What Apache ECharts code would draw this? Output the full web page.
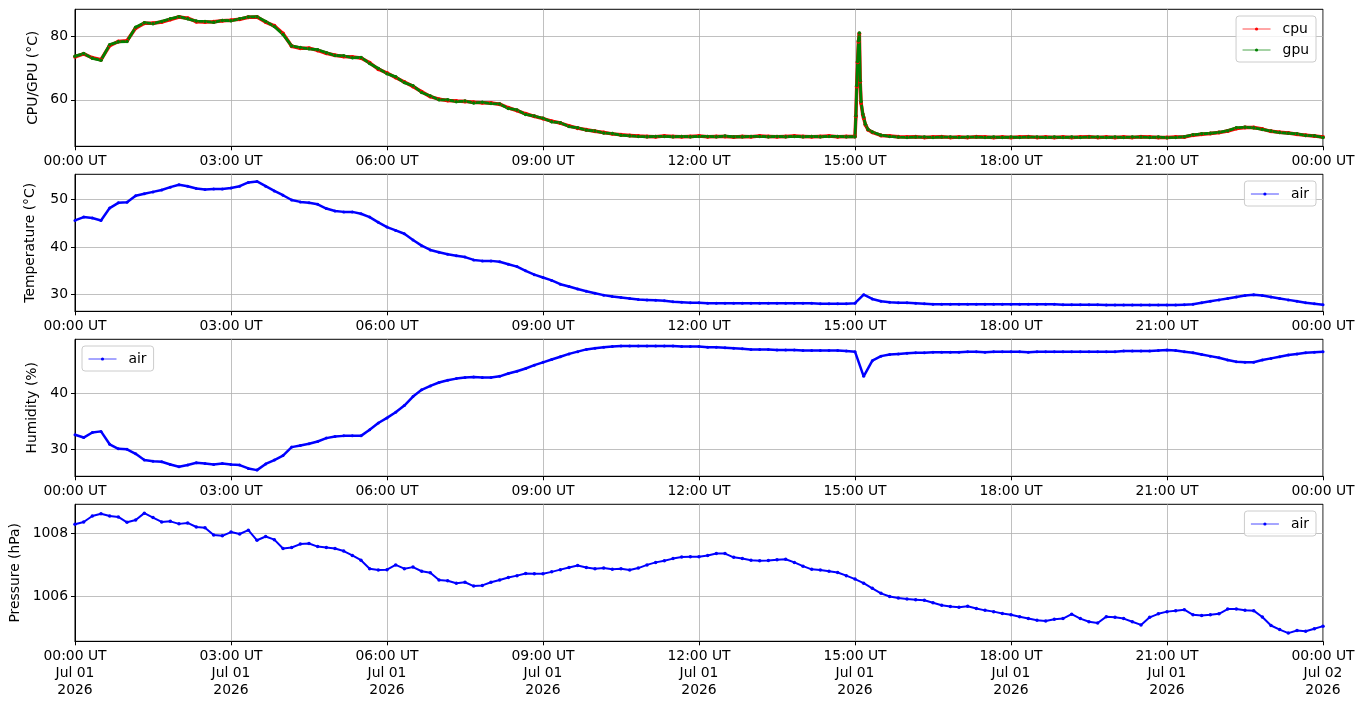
<!DOCTYPE html>
<html>
<head>
<meta charset="utf-8">
<script src="https://cdn.jsdelivr.net/npm/echarts@6/dist/echarts.min.js"></script>
<style>
  html, body { margin: 0; padding: 0; background: #fff; }
  #chart { width: 1364px; height: 707px; }
</style>
</head>
<body>
<div id="chart"></div>
<script>
// ── Data: one sample every 10 minutes, 00:00 UT Jul 01 → 00:00 UT Jul 02 ──
const startUtc = Date.UTC(2026, 6, 1)
const stepMs = 10 * 60 * 1000
const hourMs = 3600 * 1000

const cpuTemp = [
  73.5, 74.4, 73.2, 72.6, 77.0, 78.3,
  78.5, 82.5, 84.0, 84.0, 84.4, 85.2,
  86.0, 85.6, 84.5, 84.4, 84.5, 84.8,
  85.0, 85.3, 85.9, 86.0, 84.4, 83.2,
  80.8, 76.8, 76.2, 76.2, 75.5, 74.6,
  74.0, 73.6, 73.4, 73.1, 71.6, 69.6,
  68.4, 67.0, 65.6, 64.2, 62.5, 61.0,
  60.2, 59.8, 59.6, 59.5, 59.2, 59.1,
  59.0, 58.6, 57.5, 56.6, 55.6, 54.8,
  54.1, 53.3, 52.7, 51.8, 51.1, 50.6,
  50.1, 49.7, 49.3, 49.0, 48.8, 48.6,
  48.5, 48.4, 48.6, 48.5, 48.4, 48.5,
  48.6, 48.4, 48.5, 48.5, 48.3, 48.5,
  48.4, 48.6, 48.5, 48.4, 48.5, 48.6,
  48.5, 48.4, 48.5, 48.6, 48.4, 48.5,
  48.5, 54.3, 49.8, 48.8, 48.6, 48.4,
  48.3, 48.4, 48.2, 48.3, 48.4, 48.2,
  48.3, 48.2, 48.4, 48.3, 48.2, 48.3,
  48.2, 48.3, 48.4, 48.2, 48.3, 48.2,
  48.3, 48.2, 48.3, 48.4, 48.2, 48.3,
  48.2, 48.3, 48.2, 48.4, 48.3, 48.2,
  48.2, 48.3, 48.3, 48.9, 49.2, 49.4,
  49.7, 50.2, 51.0, 51.3, 51.3, 50.8,
  50.1, 49.8, 49.6, 49.2, 48.9, 48.6, 48.3,
]

const gpuTemp = [
  73.7, 74.5, 73.0, 72.4, 77.3, 78.2,
  78.3, 82.8, 84.2, 83.9, 84.6, 85.4,
  86.1, 85.4, 84.7, 84.6, 84.3, 84.9,
  84.8, 85.4, 86.0, 86.1, 84.6, 83.0,
  80.5, 76.9, 76.4, 76.0, 75.7, 74.8,
  73.9, 73.8, 73.2, 73.3, 71.4, 69.8,
  68.2, 67.2, 65.4, 64.4, 62.3, 61.2,
  60.0, 60.0, 59.4, 59.6, 59.0, 59.2,
  58.8, 58.7, 57.3, 56.8, 55.4, 54.9,
  54.2, 53.1, 52.8, 51.6, 51.2, 50.5,
  50.2, 49.6, 49.4, 48.9, 48.7, 48.5,
  48.4, 48.5, 48.5, 48.4, 48.5, 48.4,
  48.5, 48.5, 48.4, 48.6, 48.4, 48.4,
  48.5, 48.5, 48.4, 48.5, 48.4, 48.5,
  48.4, 48.5, 48.4, 48.5, 48.5, 48.4,
  48.4, 54.6, 49.9, 48.9, 48.5, 48.3,
  48.2, 48.3, 48.3, 48.2, 48.3, 48.3,
  48.2, 48.3, 48.3, 48.2, 48.3, 48.2,
  48.3, 48.2, 48.3, 48.3, 48.2, 48.3,
  48.2, 48.3, 48.2, 48.3, 48.3, 48.2,
  48.3, 48.2, 48.3, 48.3, 48.2, 48.3,
  48.1, 48.2, 48.4, 49.0, 49.3, 49.5,
  49.8, 50.3, 51.2, 51.4, 51.2, 50.7,
  50.2, 49.7, 49.5, 49.3, 48.8, 48.7, 48.2,
]

// extra samples around the 15:00 spike (minutes after midnight)
const spikeMinutes = [901, 902, 903, 904, 905, 906, 907, 909, 912, 915]
const cpuSpike = [54.8, 64.2, 71.8, 78.2, 80.8, 65.7, 59.0, 55.3, 52.2, 50.6]
const gpuSpike = [55.0, 64.5, 72.0, 78.5, 81.0, 66.0, 59.5, 55.5, 52.3, 50.7]

const airTemp = [
  45.6, 46.3, 46.1, 45.6, 48.2, 49.3,
  49.4, 50.8, 51.2, 51.6, 52.0, 52.6,
  53.1, 52.8, 52.3, 52.1, 52.2, 52.2,
  52.4, 52.8, 53.6, 53.8, 52.8, 51.8,
  50.9, 49.9, 49.5, 49.3, 49.0, 48.1,
  47.6, 47.4, 47.4, 47.0, 46.3, 45.2,
  44.2, 43.5, 42.8, 41.5, 40.3, 39.4,
  38.9, 38.5, 38.2, 37.9, 37.3, 37.1,
  37.1, 36.9, 36.4, 35.9, 35.0, 34.2,
  33.6, 33.0, 32.2, 31.7, 31.2, 30.7,
  30.3, 29.9, 29.6, 29.4, 29.2, 29.0,
  28.9, 28.8, 28.7, 28.5, 28.4, 28.3,
  28.3, 28.2, 28.2, 28.2, 28.2, 28.2,
  28.2, 28.2, 28.2, 28.2, 28.2, 28.2,
  28.2, 28.2, 28.1, 28.1, 28.1, 28.1,
  28.2, 30.0, 29.1, 28.6, 28.4, 28.3,
  28.3, 28.2, 28.1, 28.0, 28.0, 28.0,
  28.0, 28.0, 28.0, 28.0, 28.0, 28.0,
  28.0, 28.0, 28.0, 28.0, 28.0, 28.0,
  27.9, 27.9, 27.9, 27.9, 27.9, 27.8,
  27.8, 27.8, 27.8, 27.8, 27.8, 27.8,
  27.8, 27.8, 27.9, 28.0, 28.3, 28.6,
  28.9, 29.2, 29.5, 29.8, 30.0, 29.8,
  29.5, 29.2, 28.9, 28.6, 28.3, 28.1, 27.9,
]

const airHumidity = [
  32.6, 32.1, 33.0, 33.2, 30.9, 30.1,
  30.0, 29.2, 28.1, 27.9, 27.8, 27.3,
  26.9, 27.2, 27.6, 27.5, 27.3, 27.5,
  27.3, 27.2, 26.6, 26.3, 27.4, 28.1,
  28.9, 30.4, 30.7, 31.0, 31.4, 32.0,
  32.3, 32.4, 32.4, 32.4, 33.5, 34.7,
  35.6, 36.6, 37.8, 39.4, 40.6, 41.3,
  41.9, 42.3, 42.6, 42.8, 42.9, 42.8,
  42.8, 43.0, 43.5, 43.9, 44.4, 45.0,
  45.5, 46.0, 46.5, 47.0, 47.4, 47.8,
  48.0, 48.2, 48.3, 48.4, 48.4, 48.4,
  48.4, 48.4, 48.4, 48.4, 48.3, 48.3,
  48.3, 48.2, 48.2, 48.1, 48.0, 47.9,
  47.8, 47.8, 47.8, 47.7, 47.7, 47.7,
  47.6, 47.6, 47.6, 47.6, 47.6, 47.5,
  47.4, 43.0, 45.8, 46.6, 46.9, 47.0,
  47.1, 47.2, 47.2, 47.3, 47.3, 47.3,
  47.3, 47.4, 47.4, 47.3, 47.4, 47.4,
  47.4, 47.4, 47.3, 47.4, 47.4, 47.4,
  47.4, 47.4, 47.4, 47.4, 47.4, 47.4,
  47.4, 47.5, 47.5, 47.5, 47.5, 47.6,
  47.7, 47.6, 47.4, 47.2, 46.9, 46.6,
  46.3, 45.9, 45.6, 45.5, 45.5, 45.9,
  46.2, 46.5, 46.8, 47.0, 47.2, 47.3, 47.4,
]

const airPressure = [
  1008.29, 1008.36, 1008.55, 1008.62, 1008.55, 1008.52,
  1008.35, 1008.42, 1008.64, 1008.50, 1008.36, 1008.38,
  1008.30, 1008.33, 1008.20, 1008.18, 1007.95, 1007.92,
  1008.04, 1007.98, 1008.10, 1007.78, 1007.90, 1007.80,
  1007.52, 1007.55, 1007.66, 1007.68, 1007.58, 1007.55,
  1007.52, 1007.44, 1007.30, 1007.15, 1006.88, 1006.84,
  1006.85, 1007.00, 1006.88, 1006.93, 1006.80, 1006.75,
  1006.52, 1006.50, 1006.42, 1006.45, 1006.33, 1006.35,
  1006.45, 1006.52, 1006.60, 1006.66, 1006.73, 1006.72,
  1006.72, 1006.78, 1006.85, 1006.92, 1006.98, 1006.92,
  1006.88, 1006.90, 1006.86, 1006.88, 1006.84, 1006.90,
  1007.00, 1007.08, 1007.13, 1007.20, 1007.25, 1007.26,
  1007.26, 1007.30, 1007.36, 1007.36, 1007.24, 1007.20,
  1007.15, 1007.13, 1007.14, 1007.16, 1007.18, 1007.08,
  1006.96, 1006.86, 1006.84, 1006.80, 1006.76, 1006.66,
  1006.55, 1006.42, 1006.26, 1006.10, 1006.00, 1005.95,
  1005.92, 1005.90, 1005.88, 1005.80, 1005.72, 1005.68,
  1005.66, 1005.69, 1005.62, 1005.56, 1005.52, 1005.46,
  1005.42, 1005.36, 1005.30, 1005.25, 1005.22, 1005.28,
  1005.30, 1005.44, 1005.30, 1005.20, 1005.16, 1005.36,
  1005.34, 1005.30, 1005.20, 1005.10, 1005.34, 1005.45,
  1005.52, 1005.55, 1005.58, 1005.42, 1005.40, 1005.42,
  1005.45, 1005.60, 1005.60, 1005.56, 1005.55, 1005.35,
  1005.08, 1004.95, 1004.84, 1004.92, 1004.90, 1004.98, 1005.06,
]

// y tick labels per panel
const cpuTicks = [60, 80]
const tempTicks = [30, 40, 50]
const humTicks = [30, 40]
const presTicks = [1006, 1008]

// ── helpers ─────────────────────────────────────────────────
const pairs = vals => vals.map((v, i) => [startUtc + i * stepMs, v])
const withSpike = (vals, spike) =>
  pairs(vals)
    .concat(spikeMinutes.map((m, i) => [startUtc + m * 60000, spike[i]]))
    .sort((a, b) => a[0] - b[0])

const pad2 = n => String(n).padStart(2, '0')
const months = ['Jan', 'Feb', 'Mar', 'Apr', 'May', 'Jun', 'Jul', 'Aug', 'Sep', 'Oct', 'Nov', 'Dec']
const hhmm = v => {
  const d = new Date(v)
  return pad2(d.getUTCHours()) + ':' + pad2(d.getUTCMinutes()) + ' UT'
}
const fullLabel = v => {
  const d = new Date(v)
  return hhmm(v) + '\n' + months[d.getUTCMonth()] + ' ' + pad2(d.getUTCDate()) + '\n' + d.getUTCFullYear()
}

const FONT = 'DejaVu Sans'
const FS = 13.9
const gridTops = [9.3, 174.3, 339.3, 504.3]

const xAxisFor = (i, formatter) => ({
  gridIndex: i,
  type: 'value',
  min: startUtc,
  max: startUtc + 24 * hourMs,
  interval: 3 * hourMs,
  axisLine: { show: true, onZero: false, lineStyle: { color: '#000', width: 1 } },
  axisTick: { show: true, length: 4, lineStyle: { color: '#000', width: 1 } },
  axisLabel: { color: '#000', fontFamily: FONT, fontSize: FS, margin: 7, lineHeight: 17, formatter },
  splitLine: { show: true, lineStyle: { color: '#b0b0b0', width: 0.8 } },
})

const yAxisFor = (i, name, min, max, ticks, gap) => ({
  gridIndex: i,
  type: 'value',
  min,
  max,
  name,
  nameLocation: 'middle',
  nameGap: gap,
  nameMoveOverlap: false,
  nameTextStyle: { color: '#000', fontFamily: FONT, fontSize: FS },
  axisLine: { show: true, lineStyle: { color: '#000', width: 1 } },
  axisTick: { show: true, length: 4, customValues: ticks, lineStyle: { color: '#000', width: 1 } },
  axisLabel: {
    color: '#000', fontFamily: FONT, fontSize: FS, margin: 7,
    customValues: ticks, formatter: v => String(v),
  },
  splitLine: { show: true, lineStyle: { color: '#b0b0b0', width: 0.8 } },
})

const lineSeries = (name, color, i, data, width, size) => ({
  name,
  type: 'line',
  xAxisIndex: i,
  yAxisIndex: i,
  data,
  symbol: 'circle',
  symbolSize: size,
  showSymbol: true,
  itemStyle: { color },
  lineStyle: { color, width },
  emphasis: { disabled: true },
})

const legendFor = (names, pos) => Object.assign({
  data: names,
  orient: 'vertical',
  itemWidth: 28,
  itemHeight: 4,
  itemGap: 7,
  padding: [6, 7, 5, 6],
  backgroundColor: 'rgba(255,255,255,0.8)',
  borderColor: '#cccccc',
  borderWidth: 1,
  borderRadius: 3,
  lineStyle: { width: 1, opacity: 0.7 },
  textStyle: { color: '#000', fontFamily: FONT, fontSize: FS, padding: [0, 0, 0, 7] },
}, pos)

const chart = echarts.init(document.getElementById('chart'), null, { renderer: 'canvas' })

chart.setOption({
  animation: false,
  backgroundColor: '#fff',
  textStyle: { fontFamily: FONT },
  grid: gridTops.map(top => ({
    left: 75, right: 41, top, height: 137,
    outerBoundsMode: 'none', containLabel: false,
    show: true, borderColor: '#000', borderWidth: 1, backgroundColor: 'transparent',
  })),
  xAxis: [
    xAxisFor(0, hhmm),
    xAxisFor(1, hhmm),
    xAxisFor(2, hhmm),
    xAxisFor(3, fullLabel),
  ],
  yAxis: [
    yAxisFor(0, 'CPU/GPU (°C)', 45.4, 88.4, cpuTicks, 35),
    yAxisFor(1, 'Temperature (°C)', 26.5, 55.3, tempTicks, 38),
    yAxisFor(2, 'Humidity (%)', 25.2, 49.6, humTicks, 36),
    yAxisFor(3, 'Pressure (hPa)', 1004.58, 1008.92, presTicks, 53),
  ],
  legend: [
    legendFor(['cpu', 'gpu'], { right: 48, top: 16 }),
    legendFor(['air'], { right: 48, top: 181 }),
    legendFor(['air'], { left: 82, top: 346 }),
    legendFor(['air'], { right: 48, top: 511 }),
  ],
  series: [
    lineSeries('cpu', '#ff0000', 0, withSpike(cpuTemp, cpuSpike), 3.5, 4),
    lineSeries('gpu', '#008000', 0, withSpike(gpuTemp, gpuSpike), 2.8, 3.5),
    lineSeries('air', '#0000ff', 1, pairs(airTemp), 2.5, 3),
    lineSeries('air', '#0000ff', 2, pairs(airHumidity), 2.5, 3),
    lineSeries('air', '#0000ff', 3, pairs(airPressure), 2, 3.5),
  ],
})
</script>
</body>
</html>
